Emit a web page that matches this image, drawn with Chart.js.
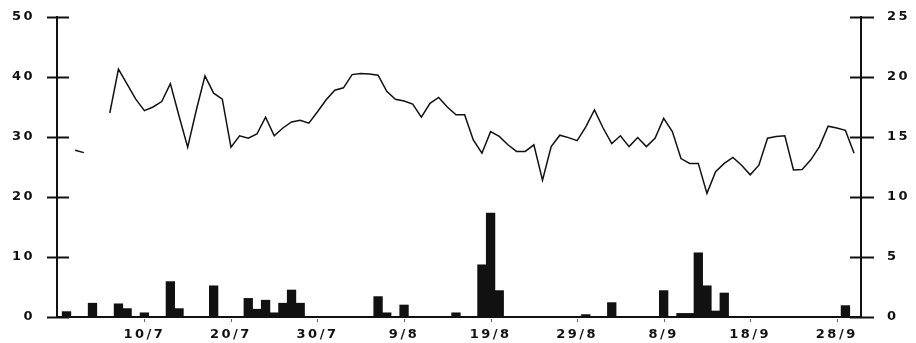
<!DOCTYPE html>
<html>
<head>
<meta charset="utf-8">
<script src="https://cdn.jsdelivr.net/npm/chart.js@4.4.1/dist/chart.umd.min.js"></script>
<style>
  html, body { margin: 0; padding: 0; background: #fff; }
</style>
</head>
<body>
<canvas id="c" width="916" height="343"></canvas>
<script>
// Day numbers count from 1 July (= 0).
const tickDays   = [9, 19, 29, 39, 49, 59, 69, 79, 89];
const tickLabels = ['10/7', '20/7', '30/7', '9/8', '19/8', '29/8', '8/9', '18/9', '28/9'];

// Daily rainfall bars (left axis)
const rainDays = [0, 3, 6, 7, 9, 12, 13, 17, 21, 22, 23, 24, 25, 26, 27, 36, 37, 39, 45, 48, 49, 50, 60, 63, 69, 71, 72, 73, 74, 75, 76, 90];
const rainMm   = [0.9, 2.3, 2.2, 1.4, 0.7, 5.9, 1.4, 5.2, 3.1, 1.3, 2.8, 0.7, 2.3, 4.5, 2.3, 3.4, 0.7, 2.0, 0.7, 8.7, 17.3, 4.4, 0.4, 2.4, 4.4, 0.6, 0.6, 10.7, 5.2, 1.0, 4.0, 1.9];

// Daily line series, one value per day starting on day 1 (null = no reading)
const lineFirstDay = 1;
const lineValues = [
  27.8, 27.4, null, null, 34.0, 41.3, 38.8, 36.3, 34.4, 35.0,
  35.9, 38.9, 33.5, 28.3, 34.5, 40.2, 37.3, 36.3, 28.3, 30.2,
  29.8, 30.5, 33.3, 30.2, 31.5, 32.5, 32.8, 32.3, 34.2, 36.2,
  37.8, 38.2, 40.4, 40.6, 40.5, 40.3, 37.6, 36.3, 36.0, 35.5,
  33.3, 35.6, 36.6, 35.0, 33.7, 33.7, 29.5, 27.3, 30.9, 30.1,
  28.7, 27.6, 27.6, 28.7, 22.8, 28.4, 30.3, 29.9, 29.4, 31.7,
  34.5, 31.5, 28.9, 30.2, 28.4, 29.9, 28.4, 29.8, 33.1, 30.9,
  26.4, 25.6, 25.6, 20.6, 24.2, 25.6, 26.6, 25.3, 23.7, 25.3,
  29.8, 30.1, 30.2, 24.5, 24.6, 26.2, 28.4, 31.8, 31.5, 31.1,
  27.3
];

const rainPoints = rainDays.map((d, i) => ({ x: d, y: rainMm[i] }));
const linePoints = lineValues.map((v, i) => ({ x: lineFirstDay + i, y: v }));

const INK = '#111';
const tickFont = { family: 'DejaVu Sans', size: 13, weight: 'bold' };

// Invisible tick marks are used only to push labels away from the axis line
function labelGap(len) {
  return { display: true, drawOnChartArea: false, drawTicks: true, tickLength: len, tickColor: 'rgba(0,0,0,0)', color: 'rgba(0,0,0,0)' };
}

// Axis tick marks that cross the axis line on both sides
const crossTicks = {
  id: 'crossTicks',
  beforeInit(chart) { chart.ctx.letterSpacing = '2.5px'; },
  beforeDraw(chart) { chart.ctx.letterSpacing = '2.5px'; },
  afterDraw(chart) {
    const ctx = chart.ctx;
    const area = chart.chartArea;
    ctx.save();
    ctx.strokeStyle = INK;
    ctx.lineWidth = 2;
    const yl = chart.scales.y;
    yl.ticks.forEach(t => {
      const py = Math.round(yl.getPixelForValue(t.value)) + 0.5;
      ctx.beginPath();
      ctx.moveTo(area.left - 10, py);
      ctx.lineTo(area.left + 12, py);
      ctx.stroke();
    });
    const yr = chart.scales.y2;
    yr.ticks.forEach(t => {
      const py = Math.round(yr.getPixelForValue(t.value)) + 0.5;
      ctx.beginPath();
      ctx.moveTo(area.right - 11, py);
      ctx.lineTo(area.right + 13, py);
      ctx.stroke();
    });
    const xs = chart.scales.x;
    ctx.lineWidth = 1;
    ctx.strokeStyle = '#666';
    tickDays.forEach(d => {
      const px = Math.round(xs.getPixelForValue(d)) + 0.5;
      ctx.beginPath();
      ctx.moveTo(px, area.bottom + 2);
      ctx.lineTo(px, area.bottom + 5);
      ctx.stroke();
    });
    ctx.restore();
  }
};

new Chart(document.getElementById('c'), {
  type: 'bar',
  data: {
    datasets: [
      {
        type: 'line',
        data: linePoints,
        yAxisID: 'y',
        borderColor: INK,
        borderWidth: 1.5,
        pointRadius: 0,
        pointHoverRadius: 0,
        tension: 0,
        spanGaps: false,
        order: 1
      },
      {
        type: 'bar',
        data: rainPoints,
        yAxisID: 'y',
        backgroundColor: INK,
        borderWidth: 0,
        barPercentage: 1.0,
        categoryPercentage: 1.0,
        order: 2
      }
    ]
  },
  options: {
    responsive: false,
    animation: false,
    events: [],
    layout: { padding: { top: 17, left: 0, right: 0, bottom: 0 } },
    plugins: { legend: { display: false }, tooltip: { enabled: false } },
    scales: {
      x: {
        type: 'linear',
        min: -1.1,
        max: 91.8,
        offset: false,
        grid: labelGap(10),
        border: { display: true, color: INK, width: 2 },
        afterBuildTicks(scale) {
          scale.ticks = tickDays.map(v => ({ value: v }));
        },
        afterFit(scale) { scale.height = 26; },
        ticks: {
          autoSkip: false,
          maxRotation: 0,
          padding: 0,
          color: INK,
          font: tickFont,
          callback: (v) => tickLabels[tickDays.indexOf(v)]
        }
      },
      y: {
        position: 'left',
        min: 0,
        max: 50,
        grid: labelGap(22),
        border: { display: true, color: INK, width: 2 },
        afterFit(scale) { scale.width = 57; },
        ticks: { stepSize: 10, padding: 0, color: INK, font: tickFont }
      },
      y2: {
        position: 'right',
        min: 0,
        max: 25,
        grid: labelGap(26),
        border: { display: true, color: INK, width: 2 },
        afterFit(scale) { scale.width = 55; },
        ticks: { stepSize: 5, padding: 0, color: INK, font: tickFont }
      }
    }
  },
  plugins: [crossTicks]
});
</script>
</body>
</html>
